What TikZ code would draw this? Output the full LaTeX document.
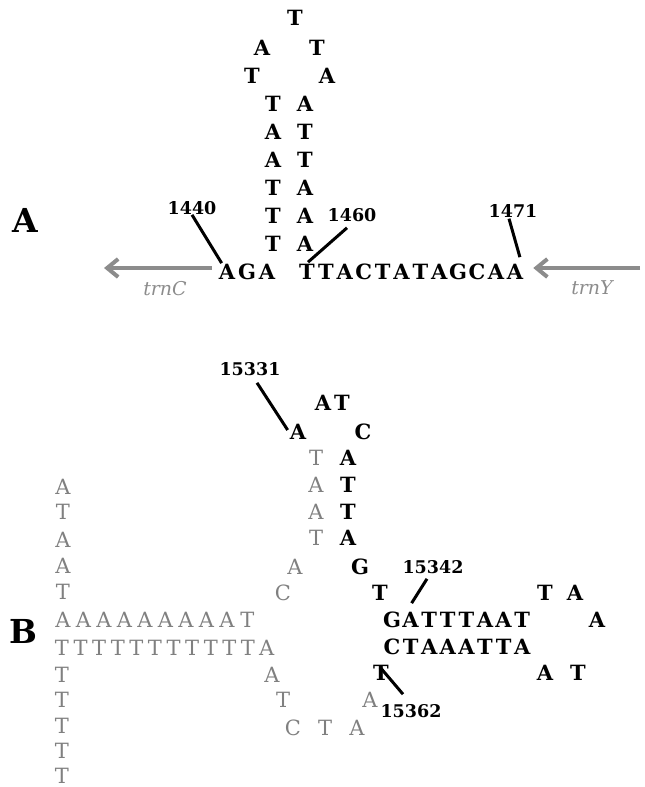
\documentclass[tikz,border=0pt]{standalone}
\usepackage{fontspec}
\setmainfont{DejaVu Serif}
\usetikzlibrary{arrows.meta,calc}

\definecolor{basegray}{HTML}{808080}
\definecolor{arrowgray}{HTML}{8C8C8C}

\tikzset{
  bk/.style={inner sep=0pt, font=\fontsize{21}{21}\selectfont\bfseries, text=black},
  gr/.style={inner sep=0pt, font=\fontsize{21}{21}\selectfont, text=basegray},
  seqpos/.style={inner sep=0pt, font=\fontsize{17.5}{17.5}\selectfont\bfseries, text=black},
  panel/.style={inner sep=0pt, font=\fontsize{33}{33}\selectfont\bfseries, text=black},
  gene/.style={inner sep=0pt, font=\fontsize{19}{19}\selectfont\itshape, text=arrowgray},
  tick/.style={line width=3pt, black},
  genearrow/.style={line width=4pt, arrowgray, -{Straight Barb[length=11pt,width=18pt]}},
}

\begin{document}
\begin{tikzpicture}[x=1pt,y=-1pt]
\useasboundingbox (0,0) rectangle (645,787);

% ---------------- panel A: trnC--trnY intergenic hairpin ----------------
\node[panel] (pA) at (25,220) {A};

% loop
\node[bk] (h0)  at (295,18) {T};
\node[bk] (h1l) at (262,48) {A};
\node[bk] (h1r) at (317,48) {T};
\node[bk] (h2l) at (252,76) {T};
\node[bk] (h2r) at (327,76) {A};

% stem
\foreach \l/\r [count=\i from 0] in {T/A,A/T,A/T,T/A,T/A,T/A} {
  \node[bk] (sl\i) at (273,{104+28*\i}) {\l};
  \node[bk] (sr\i) at (305,{104+28*\i}) {\r};
}

% flanking sequence
\node[bk] (a0) at (227,272) {A};
\node[bk] (a1) at (247,272) {G};
\node[bk] (a2) at (267,272) {A};
\foreach \c [count=\i from 0] in {T,T,A,C,T,A,T,A,G,C,A,A} {
  \node[bk] (b\i) at ({307+18.9*\i},272) {\c};
}

% positions
\node[seqpos] (l1440) at (192,208) {1440};
\node[seqpos] (l1460) at (352,215) {1460};
\node[seqpos] (l1471) at (513,211) {1471};
\draw[tick] (l1440.south) -- ($(a0.north west)+(3,-1)$);
\draw[tick] ($(l1460.south)+(-5,6)$) -- ($(b0.north)+(1,-2)$);
\draw[tick] ($(l1471.south)+(-4,1)$) -- ($(b11.north)+(5,-7)$);

% flanking genes
\coordinate (trnCtip) at (104,268);
\coordinate (trnYtail) at (640,268);
\draw[genearrow] ($(a0.west)+(-7,-4)$) -- (trnCtip);
\draw[genearrow] (trnYtail) -- ($(b11.east)+(10,-4)$);
\node[gene] (gC) at (165,289) {trnC};
\node[gene] (gY) at (592,288) {trnY};

% ---------------- panel B: control region structures ----------------
\node[panel] (pB) at (23,631) {B};

% upper hairpin
\node[bk] (u0) at (323,403) {A};
\node[bk] (u1) at (342,403) {T};
\node[bk] (u2) at (298,432) {A};
\node[bk] (u3) at (363,432) {C};
\foreach \l/\r [count=\i from 0] in {T/A,A/T,A/T,T/A} {
  \node[gr] (ul\i) at (316,{458+26.7*\i}) {\l};
  \node[bk] (ur\i) at (348,{458+26.7*\i}) {\r};
}
\node[gr] (m0) at (295,567) {A};
\node[bk] (m1) at (360,567) {G};
\node[gr] (m2) at (283,593) {C};
\node[bk] (m3) at (380,593) {T};

\node[seqpos] (l15331) at (250,369) {15331};
\draw[tick] ($(l15331.south)+(7,7)$) -- ($(u2.west)+(-2,-2)$);

% right hairpin
\node[bk] (r0) at (545,593) {T};
\node[bk] (r1) at (575,593) {A};
\node[bk] (r2) at (597,620) {A};
\node[bk] (r3) at (545,673) {A};
\node[bk] (r4) at (578,673) {T};
\foreach \c [count=\i from 0] in {G,A,T,T,T,A,A,T} {
  \node[bk] (rt\i) at ({392+18.6*\i},620) {\c};
}
\foreach \c [count=\i from 0] in {C,T,A,A,A,T,T,A} {
  \node[bk] (rb\i) at ({392+18.6*\i},647) {\c};
}
\node[bk] (rx) at (381,673) {T};

\node[seqpos] (l15342) at (433,567) {15342};
\draw[tick] ($(l15342.south)+(-6,5)$) -- ($(rt1.north)+(1,-9)$);
\node[seqpos] (l15362) at (411,711) {15362};
\draw[tick] ($(rx.north)+(-1,2)$) -- ($(l15362.north)+(-8,-10)$);

% lower left structure (grey)
\foreach \c/\y [count=\i from 0] in {A/487,T/512,A/540,A/566,T/592} {
  \node[gr] (lc\i) at (63,\y) {\c};
}
\foreach \c [count=\i from 0] in {A,A,A,A,A,A,A,A,A,T} {
  \node[gr] (la\i) at ({63+20.5*\i},620) {\c};
}
\foreach \c [count=\i from 0] in {T,T,T,T,T,T,T,T,T,T,T,A} {
  \node[gr] (lt\i) at ({62+18.6*\i},648) {\c};
}
\foreach \y [count=\i from 0] in {675,700,726,751,776} {
  \node[gr] (ld\i) at (62,\y) {T};
}
\node[gr] (g0) at (272,675) {A};
\node[gr] (g1) at (283,700) {T};
\node[gr] (g2) at (293,728) {C};
\node[gr] (g3) at (325,728) {T};
\node[gr] (g4) at (357,728) {A};
\node[gr] (g5) at (370,700) {A};

\end{tikzpicture}
\end{document}
